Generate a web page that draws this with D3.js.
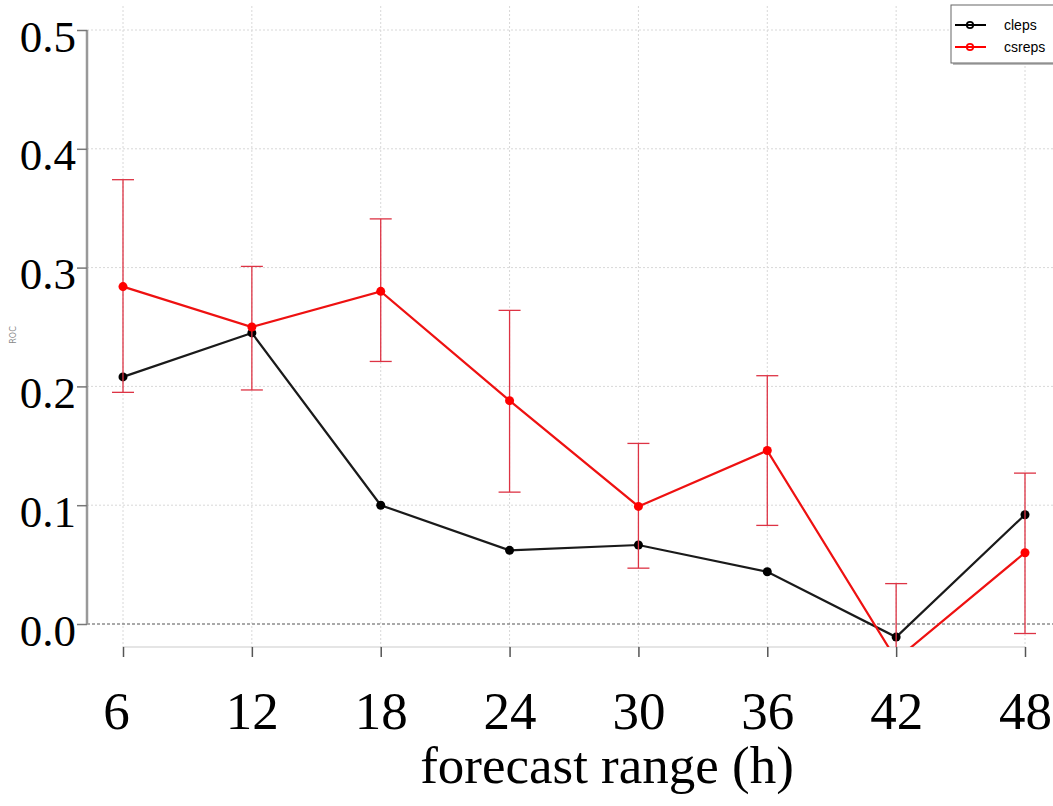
<!DOCTYPE html>
<html>
<head>
<meta charset="utf-8">
<script src="https://cdn.jsdelivr.net/npm/d3@7"></script>
<style>
  body { margin: 0; background: #fff; }
  svg { display: block; }
</style>
</head>
<body>
<svg id="chart" width="1053" height="806"></svg>
<script>
// forecast range (h)
const ranges = [6, 12, 18, 24, 30, 36, 42, 48];
const yTicks = [0.0, 0.1, 0.2, 0.3, 0.4, 0.5];

const cleps = [0.208, 0.245, 0.100, 0.062, 0.0665, 0.044, -0.011, 0.092];
const csreps = [0.284, 0.250, 0.280, 0.188, 0.099, 0.146, -0.030, 0.060];
const csrepsLow = [0.195, 0.197, 0.221, 0.111, 0.047, 0.083, -0.095, -0.008];
const csrepsHigh = [0.374, 0.301, 0.341, 0.264, 0.152, 0.209, 0.034, 0.127];

const svg = d3.select("#chart");
const serif = "'Liberation Serif', 'Times New Roman', serif";

const x = d3.scaleLinear().domain([6, 48]).range([123, 1025]);
const y = d3.scaleLinear().domain([0, 0.5]).range([624, 30]);

svg.append("clipPath").attr("id", "plotclip")
  .append("rect").attr("x", 87).attr("y", 0).attr("width", 1053 - 87).attr("height", 647);

// grid
const grid = svg.append("g").attr("stroke", "#d8d8d8").attr("stroke-dasharray", "2,2").attr("stroke-width", 1);
grid.selectAll("line.v").data(ranges).enter().append("line")
  .attr("x1", d => x(d)).attr("x2", d => x(d))
  .attr("y1", 6).attr("y2", 647);
grid.selectAll("line.h").data(yTicks.slice(1)).enter().append("line")
  .attr("x1", 87).attr("x2", 1053)
  .attr("y1", d => y(d)).attr("y2", d => y(d));

// zero reference line
svg.append("line")
  .attr("x1", 87).attr("x2", 1053)
  .attr("y1", y(0)).attr("y2", y(0))
  .attr("stroke", "#555").attr("stroke-width", 1.2).attr("stroke-dasharray", "3,2");

// y axis
const yAxis = svg.append("g")
  .attr("transform", "translate(87,0)")
  .call(d3.axisLeft(y).tickValues(yTicks).tickFormat(d3.format(".1f")).tickSize(10).tickPadding(1));
yAxis.select(".domain").attr("stroke", "#999").attr("stroke-width", 2.5).attr("d", `M0,${y(0.5)}V${y(0)}`);
yAxis.selectAll(".tick line").attr("stroke", "#777").attr("stroke-width", 1.5);
yAxis.selectAll(".tick text")
  .attr("font-family", serif).attr("font-size", 45).attr("fill", "#000")
  .attr("dy", "0.47em");

// x axis
const xAxis = svg.append("g")
  .attr("transform", "translate(0,647)")
  .call(d3.axisBottom(x).tickValues(ranges).tickSize(10).tickPadding(34));
xAxis.select(".domain").attr("stroke", "#ccc").attr("stroke-width", 1.2).attr("d", `M${x(6)},0H${x(48)}`);
xAxis.selectAll(".tick line").attr("stroke", "#555").attr("stroke-width", 1.5);
xAxis.selectAll(".tick text")
  .attr("font-family", serif).attr("font-size", 53).attr("fill", "#000")
  .attr("dx", (d, i) => i === 0 ? -7 : 0);

svg.append("text")
  .attr("x", 607).attr("y", 783)
  .attr("text-anchor", "middle")
  .attr("font-family", serif).attr("font-size", 53)
  .text("forecast range (h)");

// tiny y label
svg.append("text")
  .attr("transform", "translate(16,335) rotate(-90)")
  .attr("text-anchor", "middle")
  .attr("font-family", "'DejaVu Sans', sans-serif").attr("font-size", 8)
  .attr("fill", "#888")
  .text("ROC");

const plot = svg.append("g").attr("clip-path", "url(#plotclip)");
const line = d3.line().x((d, i) => x(ranges[i])).y(d => y(d));

// cleps
plot.append("path").datum(cleps)
  .attr("d", line).attr("fill", "none")
  .attr("stroke", "#1a1a1a").attr("stroke-width", 2.2);
plot.selectAll("circle.cleps").data(cleps).enter().append("circle")
  .attr("cx", (d, i) => x(ranges[i])).attr("cy", d => y(d))
  .attr("r", 4.5).attr("fill", "#000");

// csreps error bars
const bars = plot.append("g").attr("stroke", "#dd3344").attr("stroke-width", 1.3);
ranges.forEach((r, i) => {
  bars.append("line")
    .attr("x1", x(r)).attr("x2", x(r))
    .attr("y1", y(csrepsHigh[i])).attr("y2", y(csrepsLow[i]));
  [csrepsHigh[i], csrepsLow[i]].forEach(v => {
    bars.append("line")
      .attr("x1", x(r) - 11).attr("x2", x(r) + 11)
      .attr("y1", y(v)).attr("y2", y(v));
  });
});

// csreps
plot.append("path").datum(csreps)
  .attr("d", line).attr("fill", "none")
  .attr("stroke", "#ee1111").attr("stroke-width", 2.2);
plot.selectAll("circle.csreps").data(csreps).enter().append("circle")
  .attr("cx", (d, i) => x(ranges[i])).attr("cy", d => y(d))
  .attr("r", 4.5).attr("fill", "#ff0000");

// legend
const legend = svg.append("g");
legend.append("rect")
  .attr("x", 953).attr("y", 7).attr("width", 110).attr("height", 58)
  .attr("fill", "#bbb");
legend.append("rect")
  .attr("x", 951).attr("y", 5).attr("width", 110).attr("height", 58)
  .attr("fill", "#fff").attr("stroke", "#666").attr("stroke-width", 1);
const series = [
  { name: "cleps", color: "#000" },
  { name: "csreps", color: "#ff0000" }
];
series.forEach((s, i) => {
  const ly = 25 + i * 22;
  legend.append("line")
    .attr("x1", 955).attr("x2", 986).attr("y1", ly).attr("y2", ly)
    .attr("stroke", s.color).attr("stroke-width", 2);
  legend.append("circle")
    .attr("cx", 970).attr("cy", ly).attr("r", 3.2)
    .attr("fill", "none").attr("stroke", s.color).attr("stroke-width", 1.8);
  legend.append("text")
    .attr("x", 1004).attr("y", ly + 5)
    .attr("font-family", "'Liberation Sans', Arial, sans-serif").attr("font-size", 14)
    .text(s.name);
});
</script>
</body>
</html>
